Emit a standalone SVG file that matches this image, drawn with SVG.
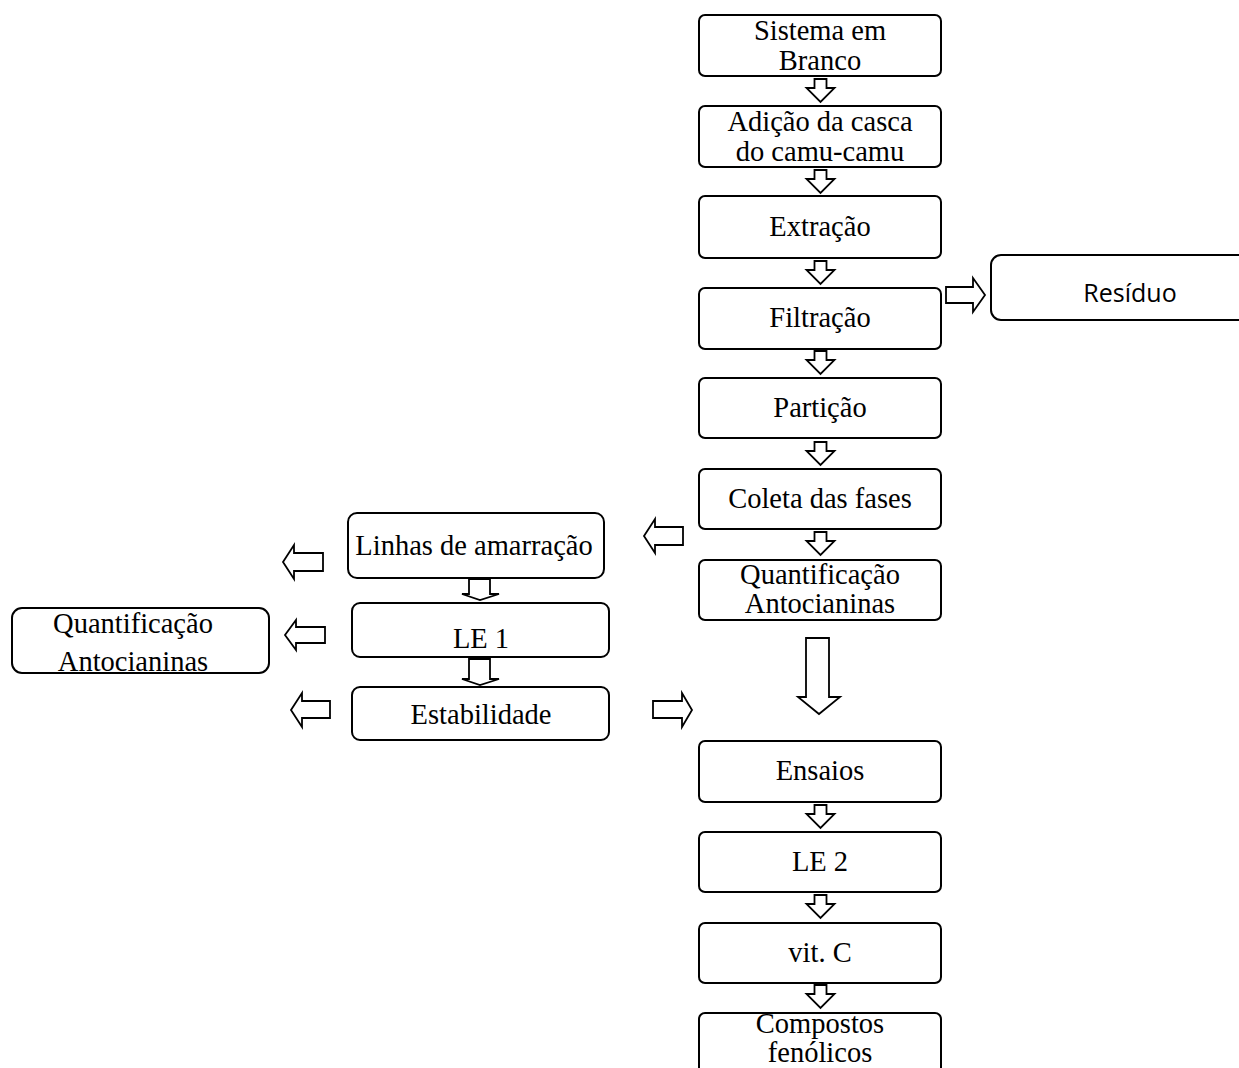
<svg xmlns="http://www.w3.org/2000/svg" width="1239" height="1068" viewBox="0 0 1239 1068">
<style>
.box{fill:#fff;stroke:#000;stroke-width:2}
.arr{fill:#fff;stroke:#000;stroke-width:1.8;stroke-linejoin:miter}
.t{font-family:"Liberation Serif","Times New Roman",serif;font-size:28.5px;fill:#000;text-anchor:middle}
.s{font-family:"Open Sans","Noto Sans",sans-serif;font-size:25px;fill:#000;text-anchor:middle}
</style>
<defs>
<path id="dn" d="M-6,0 H6 V9 H14 L0,23 L-14,9 H-6 Z"/>
</defs>
<rect width="1239" height="1068" fill="#fff"/>
<g id="connectors">
<use href="#dn" x="820.5" y="79" class="arr"/>
<use href="#dn" x="820.5" y="170" class="arr"/>
<use href="#dn" x="820.5" y="261" class="arr"/>
<use href="#dn" x="820.5" y="351" class="arr"/>
<use href="#dn" x="820.5" y="442" class="arr"/>
<use href="#dn" x="820.5" y="532" class="arr"/>
<use href="#dn" x="820.5" y="805" class="arr"/>
<use href="#dn" x="820.5" y="895" class="arr"/>
<use href="#dn" x="820.5" y="985" class="arr"/>
<path class="arr" d="M806,638 H829 V697 H840 L819,714 L798,697 H806 Z"/>
<path class="arr" d="M946,287 H973 V278 L985,295 L973,312 V303 H946 Z"/>
<path class="arr" d="M683,527 H655 V519 L644,536 L655,553 V545 H683 Z"/>
<path class="arr" d="M323,553 H294 V545 L283,562 L294,579 V571 H323 Z"/>
<path class="arr" d="M325,627 H296 V620 L285,635 L296,650 V643 H325 Z"/>
<path class="arr" d="M330,701 H302 V693 L291,710 L302,727 V718 H330 Z"/>
<path class="arr" d="M653,701 H682 V693 L692,710 L682,727 V718 H653 Z"/>
<path class="arr" d="M469,579 H490 V594 H499 L480,600 L462,594 H469 Z"/>
<path class="arr" d="M469,659 H490 V679 H499 L480,685 L462,679 H469 Z"/>
</g>
<g id="n1"><rect class="box" x="699" y="15" width="242" height="61" rx="6"/><text class="t" x="820" y="40">Sistema em</text><text class="t" x="820" y="70">Branco</text></g>
<g id="n2"><rect class="box" x="699" y="106" width="242" height="61" rx="6"/><text class="t" x="820" y="131">Adição da casca</text><text class="t" x="820" y="161">do camu-camu</text></g>
<g id="n3"><rect class="box" x="699" y="196" width="242" height="62" rx="6"/><text class="t" x="820" y="236">Extração</text></g>
<g id="n4"><rect class="box" x="699" y="288" width="242" height="61" rx="6"/><text class="t" x="820" y="327">Filtração</text></g>
<g id="n5"><rect class="box" x="699" y="378" width="242" height="60" rx="6"/><text class="t" x="820" y="417">Partição</text></g>
<g id="n6"><rect class="box" x="699" y="469" width="242" height="60" rx="6"/><text class="t" x="820" y="508">Coleta das fases</text></g>
<g id="n7"><rect class="box" x="699" y="560" width="242" height="60" rx="6"/><text class="t" x="820" y="584">Quantificação</text><text class="t" x="820" y="613">Antocianinas</text></g>
<g id="n8"><rect class="box" x="699" y="741" width="242" height="61" rx="6"/><text class="t" x="820" y="780">Ensaios</text></g>
<g id="n9"><rect class="box" x="699" y="832" width="242" height="60" rx="6"/><text class="t" x="820" y="871">LE 2</text></g>
<g id="n10"><rect class="box" x="699" y="923" width="242" height="60" rx="6"/><text class="t" x="820" y="962">vit. C</text></g>
<g id="n11"><rect class="box" x="699" y="1013" width="242" height="70" rx="6"/><text class="t" x="820" y="1033">Compostos</text><text class="t" x="820" y="1062">fenólicos</text></g>
<g id="n12"><rect class="box" x="991" y="255" width="260" height="65" rx="10"/><text class="s" x="1130" y="302">Resíduo</text></g>
<g id="n13"><rect class="box" x="348" y="513" width="256" height="65" rx="9"/><text class="t" x="474" y="555">Linhas de amarração</text></g>
<g id="n14"><rect class="box" x="352" y="603" width="257" height="54" rx="8"/><text class="t" x="481" y="648">LE 1</text></g>
<g id="n15"><rect class="box" x="352" y="687" width="257" height="53" rx="8"/><text class="t" x="481" y="724">Estabilidade</text></g>
<g id="n16"><text class="t" x="133" y="633">Quantificação</text><text class="t" x="133" y="671">Antocianinas</text><rect x="12" y="608" width="257" height="65" rx="10" fill="none" stroke="#000" stroke-width="2"/></g>
</svg>
